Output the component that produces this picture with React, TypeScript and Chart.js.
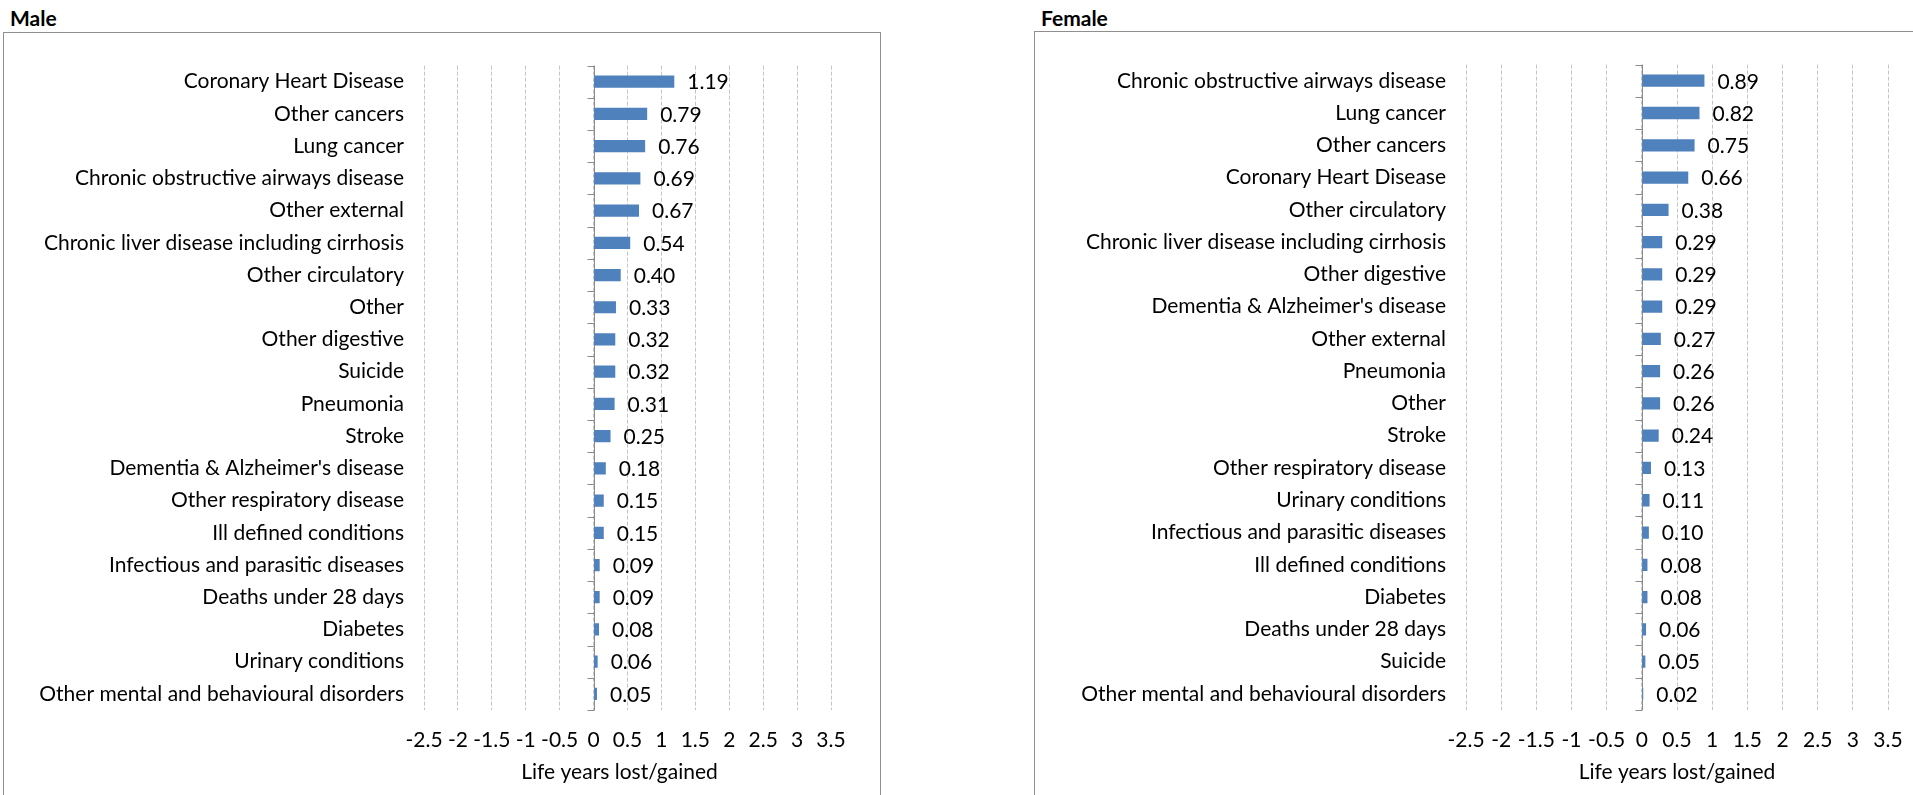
import React, { useEffect, useRef } from "react";
import { Chart, registerables } from "chart.js";

Chart.register(...registerables);

// Male: life years lost/gained by cause of death
const maleCauses = [
  "Coronary Heart Disease",
  "Other cancers",
  "Lung cancer",
  "Chronic obstructive airways disease",
  "Other external",
  "Chronic liver disease including cirrhosis",
  "Other circulatory",
  "Other",
  "Other digestive",
  "Suicide",
  "Pneumonia",
  "Stroke",
  "Dementia & Alzheimer's disease",
  "Other respiratory disease",
  "Ill defined conditions",
  "Infectious and parasitic diseases",
  "Deaths under 28 days",
  "Diabetes",
  "Urinary conditions",
  "Other mental and behavioural disorders",
];
const maleValues = [
  1.19, 0.79, 0.76, 0.69, 0.67, 0.54, 0.4, 0.33, 0.32, 0.32, 0.31, 0.25, 0.18,
  0.15, 0.15, 0.09, 0.09, 0.08, 0.06, 0.05,
];

// Female: life years lost/gained by cause of death
const femaleCauses = [
  "Chronic obstructive airways disease",
  "Lung cancer",
  "Other cancers",
  "Coronary Heart Disease",
  "Other circulatory",
  "Chronic liver disease including cirrhosis",
  "Other digestive",
  "Dementia & Alzheimer's disease",
  "Other external",
  "Pneumonia",
  "Other",
  "Stroke",
  "Other respiratory disease",
  "Urinary conditions",
  "Infectious and parasitic diseases",
  "Ill defined conditions",
  "Diabetes",
  "Deaths under 28 days",
  "Suicide",
  "Other mental and behavioural disorders",
];
const femaleValues = [
  0.89, 0.82, 0.75, 0.66, 0.38, 0.29, 0.29, 0.29, 0.27, 0.26, 0.26, 0.24, 0.13,
  0.11, 0.1, 0.08, 0.08, 0.06, 0.05, 0.02,
];

// Value axis range and tick step
const axisMin = -2.5;
const axisMax = 3.5;
const axisStep = 0.5;
const axisTitle = "Life years lost/gained";

const FONT = "Lato, 'Open Sans', sans-serif";
const FONT_SIZE = 21;
const BAR_COLOR = "#4F81BD";

// Draws the solid category axis at zero with outward tick marks,
// writes each bar's value just past its end, and the value-axis caption.
const zeroAxisAndLabels = {
  id: "zeroAxisAndLabels",
  beforeDatasetsDraw(chart: any) {
    const { ctx, chartArea, scales } = chart;
    const x0 = Math.round(scales.x.getPixelForValue(0)) + 0.5;
    const n = chart.data.labels.length;
    const band = (chartArea.bottom - chartArea.top) / n;
    ctx.save();
    ctx.strokeStyle = "#8c8c8c";
    ctx.lineWidth = 1;
    ctx.beginPath();
    ctx.moveTo(x0, chartArea.top);
    ctx.lineTo(x0, chartArea.bottom);
    for (let i = 0; i <= n; i++) {
      const y = Math.round(chartArea.top + i * band) + 0.5;
      ctx.moveTo(x0 - 7, y);
      ctx.lineTo(x0, y);
    }
    ctx.stroke();
    ctx.restore();
  },
  afterDatasetsDraw(chart: any) {
    const { ctx } = chart;
    const meta = chart.getDatasetMeta(0);
    const values = chart.data.datasets[0].data as number[];
    ctx.save();
    ctx.fillStyle = "#000";
    ctx.font = `${FONT_SIZE}px ${FONT}`;
    ctx.textAlign = "left";
    ctx.textBaseline = "middle";
    meta.data.forEach((bar: any, i: number) => {
      ctx.fillText(values[i].toFixed(2), bar.x + 13, bar.y + 1);
    });
    ctx.restore();
  },
  afterDraw(chart: any, _args: any, opts: any) {
    const { ctx, chartArea } = chart;
    ctx.save();
    ctx.fillStyle = "#000";
    ctx.font = `${FONT_SIZE}px ${FONT}`;
    ctx.textAlign = "center";
    ctx.textBaseline = "middle";
    ctx.fillText(
      opts.text,
      (chartArea.left + chartArea.right) / 2 + (opts.dx || 0),
      chartArea.bottom + opts.dy
    );
    ctx.restore();
  },
};

type PanelProps = {
  title: string;
  labels: string[];
  values: number[];
  boxLeft: number;
  boxTop: number;
  boxWidth: number;
  showRight: boolean;
  yAxisWidth: number;
  padRight: number;
  captionShift: number;
};

function Panel(p: PanelProps) {
  const ref = useRef<HTMLCanvasElement | null>(null);
  const canvasW = p.boxWidth - 2;
  const canvasH = 795 - p.boxTop - 1;

  useEffect(() => {
    if (!ref.current) return;
    const chart = new Chart(ref.current, {
      type: "bar",
      data: {
        labels: p.labels,
        datasets: [
          {
            data: p.values,
            backgroundColor: BAR_COLOR,
            borderWidth: 0,
            barPercentage: 0.38,
            categoryPercentage: 1,
          },
        ],
      },
      plugins: [zeroAxisAndLabels],
      options: {
        indexAxis: "y",
        responsive: false,
        animation: false,
        devicePixelRatio: 1,
        layout: {
          padding: { top: 29, right: p.padRight, bottom: 0, left: 0 },
        },
        plugins: {
          legend: { display: false },
          tooltip: { enabled: false },
          title: { display: false },
          zeroAxisAndLabels: { text: axisTitle, dx: p.captionShift, dy: 62 },
        } as any,
        scales: {
          x: {
            type: "linear",
            min: axisMin,
            max: axisMax,
            afterFit: (scale: any) => {
              scale.height = canvasH - (710 - p.boxTop - 1);
            },
            ticks: {
              stepSize: axisStep,
              autoSkip: false,
              maxRotation: 0,
              padding: 18,
              color: "#000",
              font: { family: FONT, size: FONT_SIZE },
              callback: (v: any) => String(Math.round(Number(v) * 10) / 10),
            },
            grid: {
              color: "#c4c4c4",
              lineWidth: 1,
              drawTicks: false,
            },
            border: { display: false, dash: [4, 2] },
          },
          y: {
            type: "category",
            afterFit: (scale: any) => {
              scale.width = p.yAxisWidth;
            },
            ticks: {
              autoSkip: false,
              padding: 20,
              color: "#000",
              font: { family: FONT, size: FONT_SIZE },
            },
            grid: { display: false, drawTicks: false },
            border: { display: false },
          },
        },
      },
    });
    return () => chart.destroy();
  }, []);

  return (
    <>
      <div
        style={{
          position: "absolute",
          left: p.boxLeft + 7,
          top: 5,
          fontFamily: FONT,
          fontWeight: 700,
          fontSize: 21,
          lineHeight: "25px",
          color: "#000",
          whiteSpace: "nowrap",
        }}
      >
        {p.title}
      </div>
      <div
        style={{
          position: "absolute",
          left: p.boxLeft,
          top: p.boxTop,
          width: p.boxWidth,
          height: 800 - p.boxTop,
          borderTop: "1px solid #8f8f8f",
          borderLeft: "1px solid #8f8f8f",
          borderRight: p.showRight ? "1px solid #8f8f8f" : "none",
          boxSizing: "border-box",
          overflow: "hidden",
        }}
      >
        <canvas
          ref={ref}
          width={canvasW}
          height={canvasH}
          style={{ display: "block", width: canvasW, height: canvasH }}
        />
      </div>
    </>
  );
}

export default function App() {
  return (
    <div
      style={{
        position: "absolute",
        left: 0,
        top: 0,
        width: 1913,
        height: 795,
        overflow: "hidden",
        background: "#fff",
      }}
    >
      <Panel
        title="Male"
        labels={maleCauses}
        values={maleValues}
        boxLeft={3}
        boxTop={32}
        boxWidth={878}
        showRight={true}
        yAxisWidth={420}
        padRight={49}
        captionShift={-8}
      />
      <Panel
        title="Female"
        labels={femaleCauses}
        values={femaleValues}
        boxLeft={1034}
        boxTop={31}
        boxWidth={890}
        showRight={false}
        yAxisWidth={431}
        padRight={35}
        captionShift={0}
      />
    </div>
  );
}
